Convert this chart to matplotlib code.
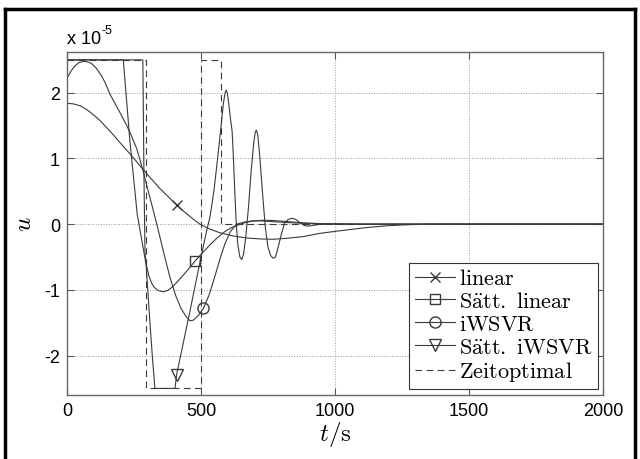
import matplotlib
matplotlib.use('Agg')
import matplotlib.pyplot as plt
from matplotlib.lines import Line2D

plt.rcParams['mathtext.fontset'] = 'cm'
plt.rcParams['axes.unicode_minus'] = False
plt.rcParams['font.family'] = ['Liberation Sans', 'DejaVu Sans']

# Werte in Einheiten von 1e-5
t_lin = [0, 25, 50, 75, 100, 125, 150, 175, 200, 235, 260, 282, 310, 347, 380, 409, 440, 470, 496, 530, 570,
         620, 670, 720, 770, 820, 880, 944, 1000, 1050, 1100, 1150, 1193, 1250, 1300, 1400, 2000]
u_lin = [1.84, 1.83, 1.80, 1.74, 1.66, 1.57, 1.46, 1.35, 1.23, 1.07, 0.95, 0.84, 0.71, 0.54, 0.41, 0.29, 0.18,
         0.08, 0.0, -0.07, -0.13, -0.18, -0.21, -0.225, -0.23, -0.215, -0.19, -0.14, -0.11, -0.085, -0.06,
         -0.04, -0.025, -0.012, -0.005, 0.0, 0.0]
mk_lin = 409

t_slin = [0, 283, 287, 291, 296, 305, 315, 325, 340, 359, 375, 395, 420, 450, 478, 500, 530, 560, 590, 615,
          640, 670, 700, 733, 770, 820, 880, 950, 1000, 1100, 2000]
u_slin = [2.5, 2.5, 0.8, -0.45, -0.62, -0.78, -0.89, -0.96, -1.01, -1.03, -1.01, -0.95, -0.84, -0.70, -0.56,
          -0.46, -0.33, -0.21, -0.11, -0.05, -0.01, 0.03, 0.05, 0.06, 0.055, 0.04, 0.02, 0.008, 0.004, 0.0, 0.0]
mk_slin = 478

t_iw = [0, 15, 30, 45, 67, 90, 110, 130, 145, 160, 180, 200, 223, 240, 260, 282, 300, 320, 335, 350, 366, 385,
        405, 425, 445, 459, 472, 490, 509, 530, 550, 570, 590, 610, 633, 660, 690, 720, 760, 820, 900, 1000,
        1100, 2000]
u_iw = [2.22, 2.33, 2.41, 2.46, 2.48, 2.45, 2.37, 2.25, 2.13, 1.98, 1.83, 1.68, 1.5, 1.35, 1.15, 0.84, 0.55,
        0.24, 0.0, -0.25, -0.52, -0.82, -1.08, -1.28, -1.41, -1.47, -1.46, -1.39, -1.28, -1.08, -0.82, -0.54,
        -0.29, -0.11, 0.0, 0.03, 0.05, 0.05, 0.04, 0.025, 0.01, 0.003, 0.0, 0.0]
mk_iw = 509

t_siw = [0, 210, 235, 262, 295, 310, 320, 328, 403, 409, 459, 496, 520, 534, 548, 562, 575, 584, 590, 594,
         598, 604, 610, 616, 620, 625, 631, 637, 645, 652, 659, 667, 677, 687, 697, 703, 707, 712, 720, 730,
         740, 750, 760, 770, 778, 788, 800, 812, 825, 840, 855, 870, 885, 897, 915, 940, 1000, 2000]
u_siw = [2.5, 2.5, 1.25, 0.15, -0.61, -1.53, -2.1, -2.5, -2.5, -2.29, -1.32, -0.58, -0.12, 0.12, 0.5, 1.0,
         1.5, 1.85, 2.0, 2.04, 2.0, 1.82, 1.6, 1.42, 1.1, 0.6, 0.05, -0.3, -0.5, -0.54, -0.45, -0.2, 0.25, 0.8,
         1.25, 1.41, 1.43, 1.35, 1.0, 0.45, -0.05, -0.35, -0.48, -0.52, -0.5, -0.35, -0.15, 0.02, 0.07, 0.09,
         0.07, 0.02, -0.02, -0.03, -0.02, -0.005, 0.0, 0.0]
mk_siw = 409

t_zo = [0, 294, 294, 500, 500, 573, 573, 2000]
u_zo = [2.5, 2.5, -2.5, -2.5, 2.5, 2.5, 0, 0]

x_ticks = [0, 500, 1000, 1500, 2000]
y_ticks = [-2, -1, 0, 1, 2]

fig = plt.figure(figsize=(6.4, 4.6), dpi=100)
ax = fig.add_axes([67/640, 1 - 396/460, (603 - 67)/640, (396 - 53)/460])

c = '#3a3a3a'
lw = 0.8
ax.plot(t_lin, u_lin, color=c, lw=lw, marker='x', ms=7, mfc='none', mec=c,
        markevery=[t_lin.index(mk_lin)], label=r'$\mathrm{linear}$')
ax.plot(t_slin, u_slin, color=c, lw=lw, marker='s', ms=7, mfc='none', mec=c,
        markevery=[t_slin.index(mk_slin)], label=r'$\mathrm{S\ddot{a}tt.\ linear}$')
ax.plot(t_iw, u_iw, color=c, lw=lw, marker='o', ms=8, mfc='none', mec=c,
        markevery=[t_iw.index(mk_iw)], label=r'$\mathrm{iWSVR}$')
ax.plot(t_siw, u_siw, color=c, lw=lw, marker='v', ms=8, mfc='none', mec=c,
        markevery=[t_siw.index(mk_siw)], label=r'$\mathrm{S\ddot{a}tt.\ iWSVR}$')
ax.plot(t_zo, u_zo, color=c, lw=lw, ls=(0, (6, 4)), label=r'$\mathrm{Zeitoptimal}$')

ax.set_xlim(0, 2000)
ax.set_ylim(-2.6, 2.62)
ax.set_xticks(x_ticks)
ax.set_yticks(y_ticks)
ax.tick_params(direction='in', top=True, right=True, length=5, labelsize=13, colors='#555555',
               labelcolor='black', pad=5)
ax.grid(True, ls=':', color='#999999', lw=0.7)
for s in ax.spines.values():
    s.set_color('#666666')
    s.set_linewidth(1.0)

ax.set_xlabel(r'$t/\mathrm{s}$', fontsize=18, labelpad=0)
ax.set_ylabel(r'$u$', fontsize=18, labelpad=6)

# Exponent-Beschriftung wie in MATLAB
ax.annotate('x 10', xy=(0, 1.015), xycoords='axes fraction', fontsize=13, va='bottom', ha='left')
ax.annotate('-5', xy=(0, 1.015), xycoords='axes fraction', xytext=(25, 8), textcoords='offset points',
            fontsize=9, va='bottom', ha='left')

leg = ax.legend(loc='lower right', bbox_to_anchor=(598/640, 70/460), bbox_transform=fig.transFigure,
                fontsize=16, numpoints=1, fancybox=False, framealpha=1, edgecolor='#333333',
                handlelength=1.8, handletextpad=0.2, labelspacing=0.08, borderpad=0.25, borderaxespad=0)
leg.get_frame().set_linewidth(0.8)

# Rahmen um die Abbildung
for xs, ys in [([5/640, 5/640], [0, 1 - 10/460]), ([5/640, 635/640], [1 - 10/460, 1 - 10/460]),
               ([635/640, 635/640], [1 - 10/460, 0])]:
    fig.add_artist(Line2D(xs, ys, transform=fig.transFigure, color='black', lw=2.5))

fig.savefig('out.png', dpi=100)
